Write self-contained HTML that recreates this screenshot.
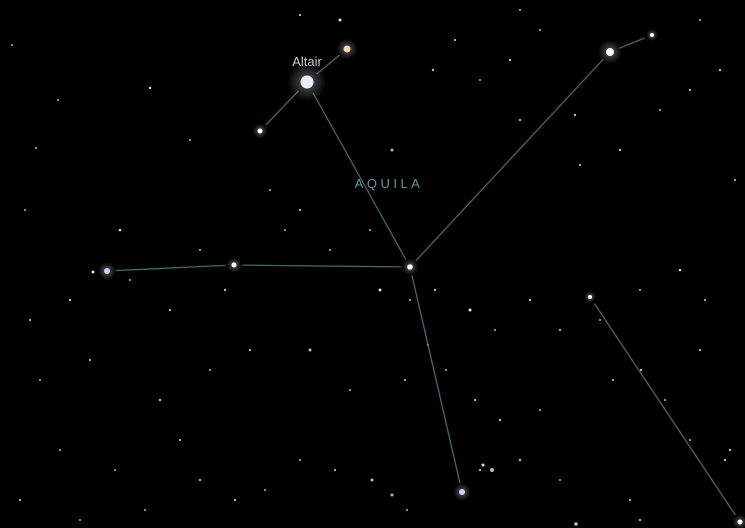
<!DOCTYPE html>
<html><head><meta charset="utf-8"><style>
html,body{margin:0;padding:0;background:#000;}
svg{display:block;}
</style></head><body>
<svg id="sky" width="745" height="528" viewBox="0 0 745 528" xmlns="http://www.w3.org/2000/svg">
<defs>
<radialGradient id="glow"><stop offset="0" stop-color="#fff" stop-opacity="0.35"/><stop offset="1" stop-color="#fff" stop-opacity="0"/></radialGradient>
</defs>
<rect width="745" height="528" fill="#000"/>
<g id="faint"></g>
<g id="lines"></g>
<g id="stars"></g>
<text x="307" y="66" fill="#c8ccd4" font-family="Liberation Sans, sans-serif" font-size="13" text-anchor="middle">Altair</text>
<text x="389" y="188" fill="#5f9a96" font-family="Liberation Sans, sans-serif" font-size="13" letter-spacing="3.5" text-anchor="middle">AQUILA</text>
</svg>
<script>
const starX=[307,347,260,410,610,652,107,234,462,590,740];
const starY=[82,49,131,267,52,35,271,265,492,297,522];
const starR=[6.5,3.5,2.5,2.8,4,2,3,2.5,3,2,2.5];
const starC=['#e8eeff','#ffd9a8','#fff','#fff','#fff','#fff','#c8d0ff','#fff','#c8d4ff','#fff','#fff'];
const edgeA=[2,0,0,3,4,6,7,3,9];
const edgeB=[0,1,3,4,5,7,3,8,10];
const faintX=[93,36,58,150,190,25,120,200,270,340,392,433,455,480,510,520,540,575,580,620,660,690,720,735,30,70,130,170,225,285,300,330,370,380,410,435,470,495,530,560,600,640,680,705,40,90,160,210,250,310,350,405,428,446,475,500,540,613,641,665,700,60,115,180,235,265,335,372,407,480,520,560,630,690,725,20,80,145,200,300,392,483,492,576,640,730,12,300,520,700];
const faintY=[272,148,100,88,140,210,230,250,190,20,150,70,40,80,60,120,30,115,165,150,110,90,70,180,320,300,280,310,290,230,210,250,230,290,300,290,310,330,300,330,320,290,270,300,380,360,400,370,350,350,390,380,345,370,400,420,410,380,370,400,350,450,470,440,500,490,470,480,510,470,460,480,500,440,460,500,520,510,480,460,495,465,470,524,520,450,45,15,10,20];
const faintR=[1.5,1,1,1.2,1,1,1.3,1,1,1.5,1.5,1.2,1,1,1.2,1,1,1.2,1,1.2,1,1,1.2,1,1,1.2,1,1,1.2,1,1,1,1,1.5,1,1.2,1.5,1,1.2,1,1,1,1.2,1,1,1,1.2,1,1,1.5,1,1,1.2,1,1,1.2,1,1,1.2,1,1,1,1,1,1.2,1,1,1.5,1,1,1.2,1,1,1,1.2,1,1,1,1,1,1.5,1.5,2,1.8,1,1.2,1,1,1,1];
const ns='http://www.w3.org/2000/svg';
const gf=document.getElementById('faint'),gl=document.getElementById('lines'),gs=document.getElementById('stars');
for(let i=0;i<faintX.length;i++){const c=document.createElementNS(ns,'circle');c.setAttribute('cx',faintX[i]);c.setAttribute('cy',faintY[i]);c.setAttribute('r',faintR[i]);c.setAttribute('fill',i%3?'#bbbbbb':'#dde');


gf.appendChild(c);}
for(let i=0;i<edgeA.length;i++){const a=edgeA[i],b=edgeB[i];const dx=starX[b]-starX[a],dy=starY[b]-starY[a],L=Math.hypot(dx,dy);const ga=starR[a]+6,gb=starR[b]+6;
const l=document.createElementNS(ns,'line');l.setAttribute('x1',starX[a]+dx*ga/L);l.setAttribute('y1',starY[a]+dy*ga/L);l.setAttribute('x2',starX[b]-dx*gb/L);l.setAttribute('y2',starY[b]-dy*gb/L);l.setAttribute('stroke','#3f6a65');l.setAttribute('stroke-width','1.3');


gl.appendChild(l);}
for(let i=0;i<starX.length;i++){const g=document.createElementNS(ns,'circle');g.setAttribute('cx',starX[i]);g.setAttribute('cy',starY[i]);g.setAttribute('r',starR[i]*3);g.setAttribute('fill','url(#glow)');gs.appendChild(g);
const c=document.createElementNS(ns,'circle');c.setAttribute('cx',starX[i]);c.setAttribute('cy',starY[i]);c.setAttribute('r',starR[i]);c.setAttribute('fill',starC[i]);


gs.appendChild(c);}
</script>
</body></html>
